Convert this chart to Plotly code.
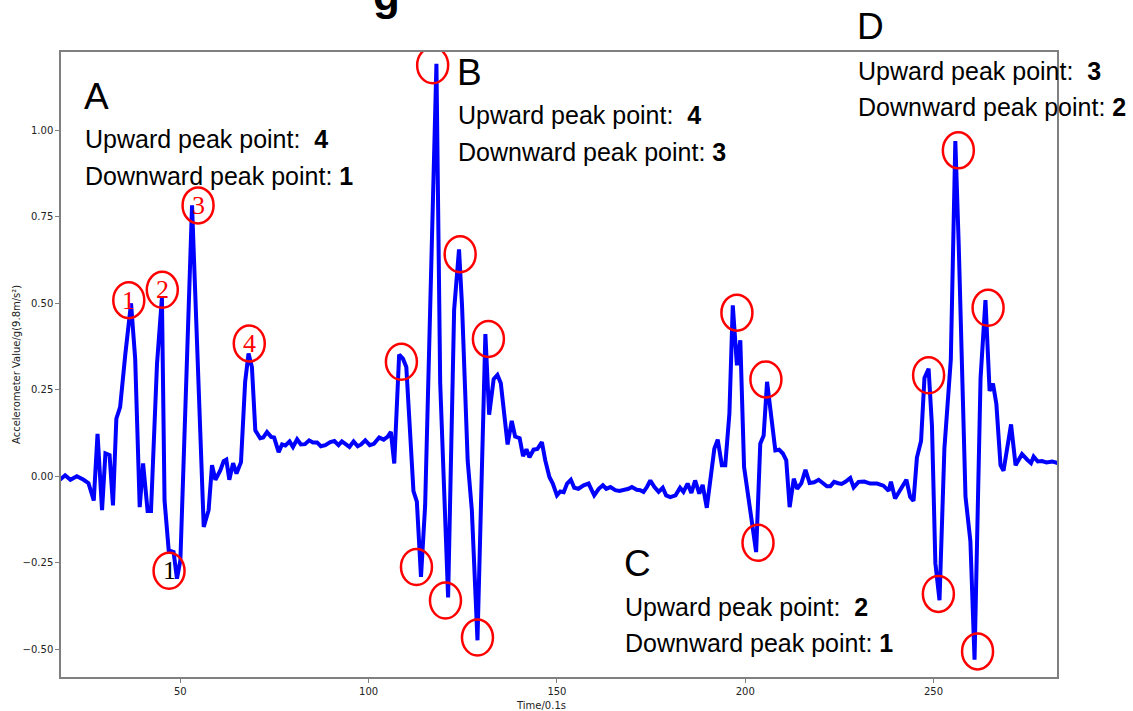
import plotly.graph_objects as go

# ---------------- data ----------------
time_values = [
    18.0, 19.4, 20.8, 22.5, 24.3, 25.6, 27.0, 28.0, 29.2, 30.1, 31.2, 32.1, 33.0, 34.0, 35.4, 36.9,
    38.0, 39.2, 40.1, 41.3, 42.2, 43.8, 45.1, 45.8, 46.9, 48.2, 49.1, 50.0, 53.1, 56.2, 57.5, 58.4,
    59.3, 60.6, 61.5, 62.2, 63.0, 64.0, 64.9, 66.1, 67.2, 68.1, 69.0, 69.9, 71.2, 72.0, 73.0, 74.1,
    74.9, 76.1, 77.0, 77.9, 79.0, 79.9, 81.0, 82.0, 83.1, 84.2, 85.2, 86.3, 87.3, 88.5, 89.8, 90.9,
    92.0, 92.9, 93.9, 94.9, 96.0, 97.1, 98.0, 99.1, 100.3, 101.4, 102.8, 104.0, 105.0, 105.9, 106.8,
    108.1, 109.1, 110.0, 111.9, 112.8, 113.9, 115.0, 118.0, 119.0, 121.1, 122.7, 124.0, 124.8, 126.3,
    127.4, 128.9, 131.0, 132.0, 133.2, 134.2, 135.1, 136.9, 138.0, 138.9, 140.1, 141.0, 141.9, 142.7,
    143.8, 144.8, 146.0, 146.9, 148.0, 148.9, 150.0, 150.9, 151.8, 152.7, 153.7, 154.6, 155.7, 157.1,
    158.4, 159.9, 161.1, 162.2, 163.1, 164.2, 165.5, 166.6, 167.8, 169.0, 169.9, 171.2, 172.1, 173.0,
    173.9, 174.8, 175.9, 177.0, 178.1, 179.0, 180.1, 181.5, 182.7, 183.6, 184.7, 185.7, 186.7, 187.8,
    188.7, 189.8, 191.8, 192.7, 193.8, 194.7, 195.8, 196.7, 197.8, 198.7, 199.7, 201.3, 202.9, 204.0,
    204.9, 205.8, 206.9, 208.0, 209.0, 210.0, 210.9, 211.8, 212.9, 213.8, 214.9, 216.0, 217.1, 218.3,
    219.5, 220.6, 221.7, 222.6, 223.6, 224.7, 225.6, 226.6, 227.9, 228.8, 230.1, 231.6, 233.2, 235.0,
    236.7, 238.1, 238.7, 239.8, 241.2, 242.8, 243.8, 244.7, 245.6, 246.7, 247.6, 248.7, 249.6, 250.5,
    251.6, 252.9, 254.6, 255.8, 256.7, 258.5, 259.8, 260.9, 262.5, 263.8, 264.9, 265.8, 266.7, 267.8,
    268.6, 270.6, 271.8, 273.5, 274.9, 275.9, 276.6, 277.7, 278.8, 280.0, 281.5, 283.0,
]
accel_values = [
    -0.010, 0.003, -0.010, 0.000, -0.010, -0.020, -0.070, 0.123, -0.098, 0.066, 0.061, -0.084, 0.167, 0.200, 0.355, 0.500,
    0.340, -0.089, 0.037, -0.100, -0.100, 0.326, 0.516, -0.070, -0.214, -0.219, -0.296, -0.243, 0.783, -0.146, -0.098, 0.032,
    -0.010, 0.017, 0.044, 0.048, -0.010, 0.038, 0.008, 0.041, 0.273, 0.355, 0.316, 0.133, 0.110, 0.112, 0.128, 0.114,
    0.112, 0.070, 0.092, 0.089, 0.101, 0.085, 0.107, 0.092, 0.093, 0.104, 0.098, 0.098, 0.087, 0.090, 0.099, 0.102,
    0.090, 0.101, 0.093, 0.085, 0.101, 0.087, 0.092, 0.104, 0.090, 0.094, 0.112, 0.106, 0.114, 0.128, 0.037,
    0.352, 0.340, 0.316, -0.043, -0.073, -0.291, -0.085, 1.192, 0.269, -0.350, 0.481, 0.656, 0.493, 0.045,
    -0.097, -0.474, 0.411, 0.178, 0.281, 0.293, 0.269, 0.092, 0.160, 0.115, 0.110, 0.058, 0.078, 0.055,
    0.077, 0.079, 0.099, 0.046, -0.002, -0.021, -0.055, -0.044, -0.046, -0.021, -0.010, -0.033, -0.036, -0.026,
    -0.021, -0.055, -0.036, -0.026, -0.036, -0.031, -0.040, -0.042, -0.040, -0.036, -0.031, -0.039, -0.040, -0.045,
    -0.031, -0.012, -0.031, -0.045, -0.033, -0.055, -0.060, -0.055, -0.033, -0.045, -0.021, -0.048, -0.012, -0.050,
    -0.025, -0.091, 0.080, 0.106, 0.032, 0.032, 0.181, 0.494, 0.321, 0.393, 0.027, -0.098, -0.219, 0.094,
    0.118, 0.273, 0.162, 0.075, 0.077, 0.066, 0.046, -0.089, -0.007, -0.036, -0.020, 0.019, -0.019, -0.017,
    -0.010, -0.020, -0.029, -0.029, -0.016, -0.020, -0.022, -0.016, -0.005, -0.032, -0.016, -0.015, -0.021, -0.021,
    -0.027, -0.042, -0.016, -0.064, -0.037, -0.010, -0.059, -0.071, 0.054, 0.102, 0.284, 0.311, 0.145, -0.251,
    -0.358, 0.081, 0.337, 0.969, 0.669, -0.059, -0.187, -0.530, 0.284, 0.509, 0.247, 0.268, 0.209, 0.032,
    0.016, 0.150, 0.032, 0.064, 0.048, 0.038, 0.057, 0.043, 0.044, 0.040, 0.043, 0.038,
]

# peak markers (circle centres) and the numbers written inside some of them
peak_x = [36.3, 45.2, 54.7, 68.3, 47.0,
          117.0, 108.7, 124.3, 131.8, 112.7, 120.4, 128.9,
          197.8, 205.5, 203.4,
          256.6, 264.5, 248.7, 251.3, 261.7]
peak_y = [0.509, 0.539, 0.783, 0.384, -0.273,
          1.188, 0.331, 0.642, 0.397, -0.262, -0.359, -0.466,
          0.473, 0.280, -0.192,
          0.942, 0.487, 0.292, -0.340, -0.506]
peak_labels = ["1", "2", "3", "4", "1"] + [""] * 15
peak_label_colors = ["red", "red", "red", "red", "black"] + ["red"] * 15

segment_names = ["A", "B", "C", "D"]
upward_counts = [4, 4, 2, 3]
downward_counts = [1, 3, 1, 2]

x_ticks = [50, 100, 150, 200, 250]
y_ticks = [-0.50, -0.25, 0.00, 0.25, 0.50, 0.75, 1.00]
y_tick_text = ["\u22120.50", "\u22120.25", "0.00", "0.25", "0.50", "0.75", "1.00"]

# ---------------- layout geometry ----------------
W, H = 1133, 711
L, R, T, B = 61, 76, 52, 34
PW, PH = W - L - R, H - T - B


def px(xp):
    return (xp - L) / PW


def py(yp):
    return (H - B - yp) / PH


fig = go.Figure()
fig.add_trace(go.Scatter(x=time_values, y=accel_values, mode="lines",
                         line=dict(color="#0000ff", width=4), hoverinfo="skip",
                         showlegend=False))

shapes = []
for cx, cy in zip(peak_x, peak_y):
    shapes.append(dict(type="circle", xref="x", yref="y", xsizemode="pixel", ysizemode="pixel",
                       xanchor=cx, yanchor=cy, x0=-15.5, x1=15.5, y0=-18, y1=18,
                       line=dict(color="#ff0000", width=2.5), layer="above"))

annotations = []
for cx, cy, lab, col in zip(peak_x, peak_y, peak_labels, peak_label_colors):
    if lab:
        annotations.append(dict(x=cx, y=cy, xref="x", yref="y", text=lab, showarrow=False,
                                font=dict(family="Liberation Serif", size=26, color=col),
                                xanchor="center", yanchor="middle"))

# segment texts: (left x, letter centre y, upward centre y, downward centre y) in pixels
text_pos = [(82, 97, 139, 176), (455, 73, 115, 152), (622, 563, 607, 643), (855, 27, 71, 107)]
for name, up, down, (tx, ly, uy, dy) in zip(segment_names, upward_counts, downward_counts, text_pos):
    annotations.append(dict(x=px(tx), y=py(ly), xref="paper", yref="paper", text=name,
                            showarrow=False, xanchor="left", yanchor="middle",
                            font=dict(family="Liberation Sans", size=37, color="black")))
    annotations.append(dict(x=px(tx + 1), y=py(uy), xref="paper", yref="paper",
                            text="Upward peak point:\u00a0 <b>%d</b>" % up,
                            showarrow=False, xanchor="left", yanchor="middle",
                            font=dict(family="Liberation Sans", size=25, color="black")))
    annotations.append(dict(x=px(tx + 1), y=py(dy), xref="paper", yref="paper",
                            text="Downward peak point: <b>%d</b>" % down,
                            showarrow=False, xanchor="left", yanchor="middle",
                            font=dict(family="Liberation Sans", size=25, color="black")))

# axis titles
annotations.append(dict(x=px(541), y=py(705), xref="paper", yref="paper", text="Time/0.1s",
                        showarrow=False, xanchor="center", yanchor="middle",
                        font=dict(family="DejaVu Sans", size=10, color="#222")))
annotations.append(dict(x=px(16), y=py(365), xref="paper", yref="paper",
                        text="Accelerometer Value/g(9.8m/s\u00b2)", textangle=-90,
                        showarrow=False, xanchor="center", yanchor="middle",
                        font=dict(family="DejaVu Sans", size=10, color="#222")))
# cut-off title fragment at the top of the figure
annotations.append(dict(x=px(386), y=py(21), xref="paper", yref="paper", text="<b>g</b>",
                        showarrow=False, xanchor="center", yanchor="bottom",
                        font=dict(family="Liberation Sans", size=44, color="black")))

axis_common = dict(showline=True, mirror=True, linecolor="#808080", linewidth=1.5,
                   ticks="outside", ticklen=4, tickcolor="#808080", tickwidth=1,
                   showgrid=False, zeroline=False,
                   tickfont=dict(family="DejaVu Sans", size=10, color="#222"))

fig.update_layout(
    width=W, height=H,
    margin=dict(l=L, r=R, t=T, b=B, pad=0),
    paper_bgcolor="white", plot_bgcolor="white",
    xaxis=dict(range=[18.3, 282.8], tickvals=x_ticks, **axis_common),
    yaxis=dict(range=[-0.580, 1.2263], tickvals=y_ticks, ticktext=y_tick_text, **axis_common),
    shapes=shapes, annotations=annotations, showlegend=False,
)

fig.write_html("out.html", config={"displayModeBar": False},
               post_script="document.body.style.margin='0';document.body.style.overflow='hidden';")
